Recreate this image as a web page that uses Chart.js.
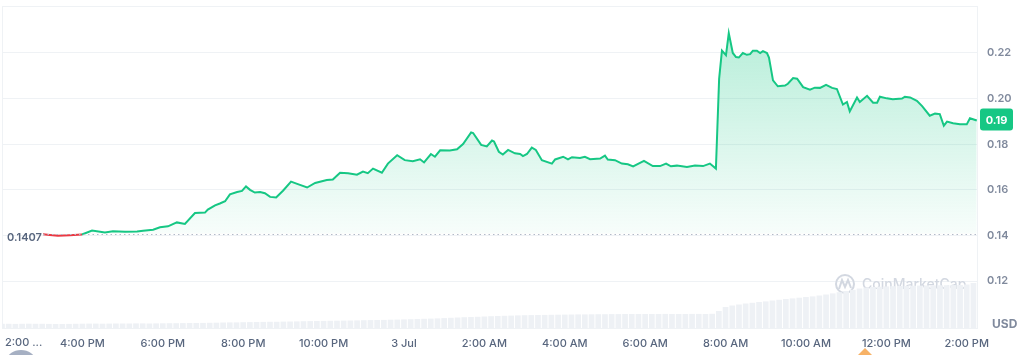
<!DOCTYPE html>
<html>
<head>
<meta charset="utf-8">
<script src="https://cdn.jsdelivr.net/npm/chart.js@4"></script>
<style>
  html, body { margin: 0; padding: 0; background: #fff; }
  #wrap { width: 1018px; height: 355px; position: relative; }
</style>
</head>
<body>
<div id="wrap"><canvas id="grafico"></canvas></div>
<script>
// hours since 2:00 PM (2 Jul)
const horas = [
  1.02, 1.19, 1.39, 1.69, 1.99, 2.24, 2.56, 2.76, 3.06, 3.36, 3.51, 3.76, 3.93, 4.13, 4.35, 4.55,
  4.80, 5.05, 5.12, 5.30, 5.42, 5.55, 5.67, 5.85, 5.97, 6.07, 6.17, 6.29, 6.42, 6.54, 6.67, 6.82,
  6.99, 7.19, 7.36, 7.59, 7.79, 8.08, 8.23, 8.41, 8.61, 8.83, 8.98, 9.10, 9.23, 9.45, 9.60, 9.83,
  10.02, 10.22, 10.40, 10.50, 10.67, 10.77, 10.90, 11.14, 11.32, 11.47, 11.67, 11.72, 11.92, 12.06,
  12.19, 12.24, 12.36, 12.46, 12.59, 12.76, 12.89, 12.96, 13.06, 13.18, 13.28, 13.43, 13.68, 13.76,
  13.96, 14.08, 14.18, 14.38, 14.50, 14.63, 14.88, 15.00, 15.07, 15.25, 15.42, 15.57, 15.70, 15.97,
  16.19, 16.37, 16.52, 16.64, 16.79, 17.04, 17.24, 17.44, 17.61, 17.76, 17.84, 17.91, 18.01, 18.08,
  18.18, 18.26, 18.33, 18.43, 18.53, 18.61, 18.68, 18.78, 18.86, 18.93, 19.03, 19.08, 19.18, 19.30,
  19.48, 19.55, 19.68, 19.78, 19.93, 20.10, 20.22, 20.35, 20.50, 20.65, 20.77, 20.92, 21.02, 21.09,
  21.27, 21.34, 21.52, 21.67, 21.77, 21.84, 22.01, 22.16, 22.39, 22.46, 22.59, 22.76, 22.89, 23.08,
  23.21, 23.33, 23.43, 23.51, 23.66, 23.83, 24.00, 24.08, 24.25
];
const precios = [
  0.1405, 0.1402, 0.1399, 0.1401, 0.1404, 0.1421, 0.1413, 0.1418, 0.1416, 0.1417, 0.1420, 0.1425, 0.1436, 0.1440, 0.1457, 0.1450,
  0.1498, 0.1500, 0.1513, 0.1532, 0.1540, 0.1550, 0.1580, 0.1590, 0.1595, 0.1615, 0.1600, 0.1588, 0.1590, 0.1585, 0.1569, 0.1566,
  0.1596, 0.1636, 0.1625, 0.1610, 0.1630, 0.1643, 0.1645, 0.1675, 0.1673, 0.1666, 0.1680, 0.1673, 0.1693, 0.1675, 0.1715, 0.1752,
  0.1730, 0.1725, 0.1734, 0.1720, 0.1757, 0.1745, 0.1773, 0.1772, 0.1778, 0.1801, 0.1852, 0.1849, 0.1797, 0.1790,
  0.1816, 0.1812, 0.1767, 0.1755, 0.1775, 0.1760, 0.1757, 0.1748, 0.1757, 0.1785, 0.1775, 0.1730, 0.1715, 0.1733,
  0.1745, 0.1733, 0.1743, 0.1740, 0.1745, 0.1734, 0.1737, 0.1750, 0.1733, 0.1730, 0.1715, 0.1712, 0.1703, 0.1727,
  0.1704, 0.1704, 0.1715, 0.1703, 0.1706, 0.1700, 0.1707, 0.1704, 0.1715, 0.1693, 0.2087, 0.2210, 0.2190, 0.2287,
  0.2200, 0.2182, 0.2180, 0.2200, 0.2192, 0.2195, 0.2210, 0.2210, 0.2200, 0.2208, 0.2200, 0.2180, 0.2080, 0.2054,
  0.2057, 0.2065, 0.2090, 0.2087, 0.2050, 0.2039, 0.2048, 0.2047, 0.2060, 0.2047, 0.2042, 0.1974, 0.1985, 0.1944,
  0.2005, 0.1985, 0.2012, 0.1982, 0.1982, 0.2008, 0.2001, 0.1997, 0.2000, 0.2008, 0.2005, 0.1990, 0.1967, 0.1925,
  0.1934, 0.1932, 0.1881, 0.1899, 0.1892, 0.1887, 0.1887, 0.1914, 0.1904
];
// volume every 10 minutes (millions, approx.)
const volumen = [
  4.2, 4.2, 4.1, 4.2, 4.3, 4.2,
  4.2, 4.1, 4.0, 4.0, 4.1, 4.2,
  4.3, 4.4, 4.4, 4.3, 4.4, 4.5,
  4.5, 4.5, 4.6, 4.6, 4.5, 4.6,
  4.7, 4.8, 4.8, 4.9, 5.0, 5.0,
  5.1, 5.2, 5.3, 5.5, 5.6, 5.6,
  5.8, 5.9, 6.0, 6.1, 6.2, 6.2,
  6.4, 6.5, 6.6, 6.8, 6.9, 7.0,
  7.1, 7.2, 7.3, 7.4, 7.5, 7.6,
  7.8, 7.9, 8.0, 8.1, 8.3, 8.4,
  8.6, 8.8, 9.0, 9.2, 9.4, 9.6,
  9.9, 10.2, 10.5, 10.8, 11.0, 11.2,
  11.5, 11.8, 12.0, 12.2, 12.4, 12.6,
  12.8, 12.9, 13.0, 13.1, 13.2, 13.3,
  13.4, 13.5, 13.6, 13.6, 13.7, 13.8,
  13.8, 13.9, 13.9, 14.0, 14.0, 14.0,
  14.0, 14.0, 14.0, 14.1, 14.0, 14.0,
  14.0, 14.1, 14.1, 14.0, 14.2, 17.0,
  21.0, 22.5, 23.5, 24.5, 25.2, 26.0,
  26.6, 27.5, 28.2, 29.0, 29.6, 30.3,
  31.0, 31.6, 32.5, 33.5, 34.6, 35.8,
  37.0, 38.2, 39.5, 40.5, 41.0, 41.3,
  41.6, 41.8, 42.0, 42.1, 42.3, 42.4,
  42.5, 42.6, 42.7, 42.8, 42.9, 43.0,
  43.5, 45.0
];
const xTicks = [0, 2, 4, 6, 8, 10, 12, 14, 16, 18, 20, 22, 24];
const xEtiquetas = ["2:00 ...", "4:00 PM", "6:00 PM", "8:00 PM", "10:00 PM", "3 Jul", "2:00 AM",
  "4:00 AM", "6:00 AM", "8:00 AM", "10:00 AM", "12:00 PM", "2:00 PM"];
const yTicks = [0.12, 0.14, 0.16, 0.18, 0.20, 0.22];
const precioApertura = 0.1407;
const precioActual = "0.19";

const VERDE = "#16c784";
const ROJO = "#ea3943";
const GRIS = "#808a9d";
const FUENTE = "Inter, 'Noto Sans', sans-serif";

const puntos = horas.map((h, i) => ({ x: h, y: precios[i] }));
const barras = volumen.map((v, i) => ({ x: i / 6, y: v }));

// gradiente verde hasta la linea de apertura
function rellenoVerde(ctx) {
  const chart = ctx.chart;
  const area = chart.chartArea;
  if (!area) return "rgba(22,199,132,0.15)";
  const yBase = chart.scales.y.getPixelForValue(precioApertura);
  const g = chart.ctx.createLinearGradient(0, area.top + 30, 0, yBase);
  g.addColorStop(0, "rgba(22,199,132,0.30)");
  g.addColorStop(1, "rgba(22,199,132,0.03)");
  return g;
}

const decoracion = {
  id: "decoracion",
  beforeDatasetsDraw(chart) {
    const { ctx, chartArea: a } = chart;
    ctx.save();
    ctx.strokeStyle = "#eff2f5";
    ctx.lineWidth = 1;
    ctx.strokeRect(a.left + 0.5, a.top + 0.5, a.right - a.left - 1, a.bottom - a.top);
    // marca de agua
    ctx.strokeStyle = "#d3d8e1";
    ctx.lineWidth = 2;
    ctx.beginPath();
    ctx.arc(845, 284, 9, 0, Math.PI * 2);
    ctx.stroke();
    ctx.beginPath();
    ctx.moveTo(839, 289);
    ctx.lineTo(842, 280);
    ctx.lineTo(845, 287);
    ctx.lineTo(848, 280);
    ctx.lineTo(851, 288);
    ctx.stroke();
    ctx.fillStyle = "#d3d8e1";
    ctx.font = "500 14px " + FUENTE;
    ctx.textBaseline = "middle";
    ctx.fillText("CoinMarketCap", 862, 285);
    ctx.restore();
  },
  afterDatasetsDraw(chart) {
    const { ctx, chartArea: a, scales } = chart;
    const yB = Math.round(scales.y.getPixelForValue(precioApertura)) + 0.5;
    ctx.save();
    // linea punteada de apertura
    ctx.strokeStyle = "#b3bac8";
    ctx.setLineDash([1.5, 3]);
    ctx.beginPath();
    ctx.moveTo(scales.x.getPixelForValue(horas[0]), yB);
    ctx.lineTo(a.right, yB);
    ctx.stroke();
    ctx.setLineDash([]);
    // etiqueta 0.1407
    ctx.fillStyle = "#58667e";
    ctx.font = "600 11px " + FUENTE;
    ctx.textBaseline = "middle";
    ctx.textAlign = "left";
    ctx.fillText(precioApertura.toString(), 7, yB + 3);

    // etiqueta precio actual
    const yA = scales.y.getPixelForValue(precios[precios.length - 1]);
    ctx.fillStyle = VERDE;
    ctx.beginPath();
    ctx.roundRect(980, yA - 12, 33, 22, 3);
    ctx.fill();
    ctx.fillStyle = "#fff";
    ctx.font = "700 11px " + FUENTE;
    ctx.textAlign = "center";
    ctx.fillText(precioActual, 996.5, yA);

    // USD
    ctx.fillStyle = GRIS;
    ctx.font = "700 12px " + FUENTE;
    ctx.textAlign = "left";
    ctx.fillText("USD", 992, 324);

    // primera etiqueta del eje x
    ctx.fillStyle = "#58667e";
    ctx.font = "500 11px " + FUENTE;
    ctx.fillText(xEtiquetas[0], 5, 343);

    // adornos inferiores
    ctx.fillStyle = "#a6b0c3";
    ctx.beginPath();
    ctx.ellipse(21, 360, 14, 10, 0, 0, Math.PI * 2);
    ctx.fill();
    ctx.fillStyle = "#f7b267";
    ctx.beginPath();
    ctx.moveTo(865, 348);
    ctx.lineTo(873, 356);
    ctx.lineTo(857, 356);
    ctx.closePath();
    ctx.fill();
    ctx.restore();
  }
};

new Chart(document.getElementById("grafico"), {
  data: {
    datasets: [
      {
        type: "line",
        data: puntos,
        order: 1,
        borderWidth: 2,
        pointRadius: 0,
        tension: 0,
        borderColor: VERDE,
        segment: {
          borderColor: c => (c.p0.parsed.y < precioApertura && c.p1.parsed.y < precioApertura) ? ROJO : VERDE
        },
        fill: { target: { value: precioApertura }, above: rellenoVerde, below: "rgba(234,57,67,0.04)" },
        yAxisID: "y"
      },
      {
        type: "bar",
        data: barras,
        order: 2,
        backgroundColor: "#eef1f5",
        barPercentage: 0.85,
        categoryPercentage: 1,
        yAxisID: "yv"
      }
    ]
  },
  options: {
    responsive: true,
    maintainAspectRatio: false,
    animation: false,
    layout: { padding: { top: 6, left: 2, right: 0, bottom: 0 } },
    plugins: { legend: { display: false }, tooltip: { enabled: false } },
    scales: {
      x: {
        type: "linear",
        offset: false,
        min: 0,
        max: 24.28,
        grid: { display: false, offset: false },
        border: { display: false },
        afterBuildTicks: s => { s.ticks = xTicks.map(v => ({ value: v })); },
        afterFit: s => { s.height = 27; s.paddingLeft = 0; s.paddingRight = 0; },
        ticks: {
          autoSkip: false,
          maxRotation: 0,
          padding: 1,
          color: "#58667e",
          font: { family: FUENTE, size: 11, weight: 500 },
          callback: v => v === 0 ? "" : xEtiquetas[xTicks.indexOf(v)]
        }
      },
      y: {
        position: "right",
        min: 0.0994,
        max: 0.2406,
        grid: { color: "#eff2f5", drawTicks: false },
        border: { display: false },
        afterBuildTicks: s => { s.ticks = yTicks.map(v => ({ value: v })); },
        afterFit: s => { s.width = 40; s.paddingTop = 0; s.paddingBottom = 0; },
        ticks: {
          padding: 9,
          color: GRIS,
          font: { family: FUENTE, size: 11, weight: 600 },
          callback: v => v.toFixed(2)
        }
      },
      yv: {
        display: false,
        min: 0,
        max: 322
      }
    }
  },
  plugins: [decoracion]
});
</script>
</body>
</html>
